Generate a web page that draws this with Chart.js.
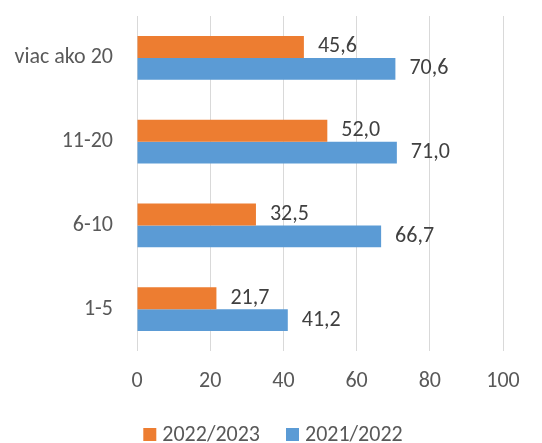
<!DOCTYPE html>
<html>
<head>
<meta charset="utf-8">
<script src="https://cdn.jsdelivr.net/npm/chart.js@4/dist/chart.umd.min.js"></script>
<style>
html,body{margin:0;padding:0;background:#fff;}
#wrap{width:542px;height:443px;}
</style>
</head>
<body>
<div id="wrap"><canvas id="c" width="542" height="443"></canvas></div>
<script>
const categories = ['viac ako 20', '11-20', '6-10', '1-5'];
const series2022 = [45.6, 52.0, 32.5, 21.7];
const series2021 = [70.6, 71.0, 66.7, 41.2];
const seriesNames = ['2022/2023', '2021/2022'];
const seriesColors = ['#ED7D31', '#5B9BD5'];
const xTicks = [0, 20, 40, 60, 80, 100];

const FONT = 'Carlito, Calibri, Lato, "Open Sans", sans-serif';
const FS = 22;

const labelPlugin = {
  id: 'barLabels',
  afterDatasetsDraw(chart) {
    const ctx = chart.ctx;
    ctx.save();
    ctx.font = FS + 'px ' + FONT;
    ctx.fillStyle = '#404040';
    ctx.textAlign = 'left';
    ctx.textBaseline = 'middle';
    chart.data.datasets.forEach((ds, i) => {
      const meta = chart.getDatasetMeta(i);
      meta.data.forEach((bar, j) => {
        const v = ds.data[j];
        ctx.fillText(v.toFixed(1).replace('.', ','), bar.x + 14, bar.y);
      });
    });
    ctx.restore();
  }
};

const legendPlugin = {
  id: 'customLegend',
  afterDraw(chart) {
    const ctx = chart.ctx;
    ctx.save();
    ctx.font = FS + 'px ' + FONT;
    const box = 13, gapText = 6, gapItem = 26;
    const widths = seriesNames.map(n => ctx.measureText(n).width);
    let total = 0;
    widths.forEach((w, i) => { total += box + gapText + w + (i < widths.length - 1 ? gapItem : 0); });
    let x = 273 - total / 2;
    const cy = 434.5;
    ctx.textAlign = 'left';
    ctx.textBaseline = 'middle';
    seriesNames.forEach((n, i) => {
      ctx.fillStyle = seriesColors[i];
      ctx.fillRect(x, cy - box / 2, box, box);
      x += box + gapText;
      ctx.fillStyle = '#595959';
      ctx.fillText(n, x, cy + 1);
      x += widths[i] + gapItem;
    });
    ctx.restore();
  }
};

new Chart(document.getElementById('c'), {
  type: 'bar',
  data: {
    labels: categories,
    datasets: seriesNames.map((n, i) => ({
      label: n,
      data: i === 0 ? series2022 : series2021,
      backgroundColor: seriesColors[i],
      borderWidth: 0
    }))
  },
  options: {
    indexAxis: 'y',
    responsive: false,
    animation: false,
    devicePixelRatio: 1,
    categoryPercentage: 0.525,
    barPercentage: 1.0,
    layout: { padding: { top: 16, right: 39, left: 0, bottom: 29 } },
    plugins: {
      legend: { display: false },
      tooltip: { enabled: false }
    },
    scales: {
      x: {
        min: 0,
        max: 100,
        afterBuildTicks: s => { s.ticks = xTicks.map(v => ({ value: v })); },
        afterFit: s => { s.height = 63; },
        grid: { color: '#D9D9D9', lineWidth: 1, drawTicks: false },
        border: { display: false },
        ticks: { font: { family: FONT, size: FS }, color: '#595959', padding: 17, maxRotation: 0 }
      },
      y: {
        afterFit: s => { s.width = 137; s.paddingTop = 0; s.paddingBottom = 0; },
        grid: { display: false, drawTicks: false },
        border: { display: false },
        ticks: { font: { family: FONT, size: FS }, color: '#595959', padding: 24 }
      }
    }
  },
  plugins: [labelPlugin, legendPlugin]
});
</script>
</body>
</html>
